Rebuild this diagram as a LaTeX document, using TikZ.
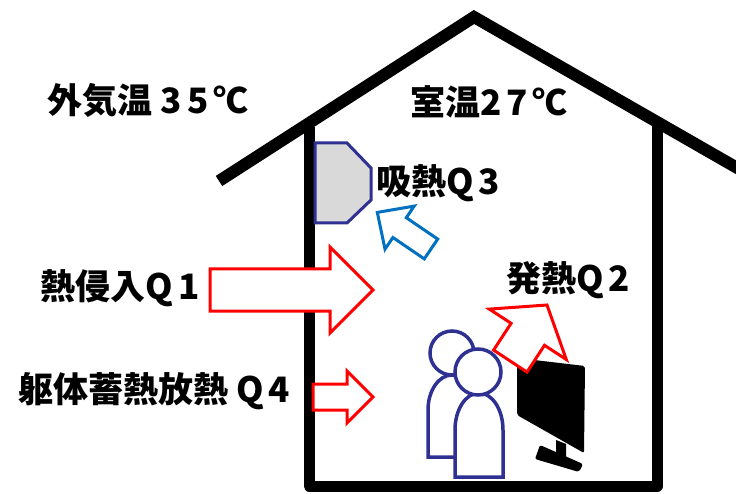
\documentclass[tikz,border=0pt]{standalone}
\usepackage{fontspec}
\setmainfont{Noto Sans CJK JP}
\newfontfamily\latinwide{Noto Sans CJK JP}[LetterSpace=14]
\usepackage{tikz}

\definecolor{navy}{RGB}{46,49,146}
\definecolor{sinkblue}{RGB}{0,112,192}
\definecolor{panel}{RGB}{217,217,217}

\begin{document}
\begin{tikzpicture}[x=1pt, y=-1pt,
    structure/.style={line width=11pt, line join=round},
    roofline/.style={line width=12pt, line join=miter},
    gainarrow/.style={draw=red, fill=white, line width=3pt, line join=miter},
    sinkarrow/.style={draw=sinkblue, fill=white, line width=3pt, line join=miter},
    person/.style={draw=navy, fill=white, line width=3.5pt},
    qtext/.style={font=\bfseries\fontsize{35}{40}\selectfont, inner sep=0pt}
  ]
  \clip (0,0) rectangle (736,494);

  % house
  \draw[roofline] (219,181) -- (474,17) -- (760,181);
  \draw[structure] (309,127) -- (309,486) -- (657,486) -- (657,125);

  % cooling panel and absorbed heat
  \draw[draw=navy, fill=panel, line width=3pt]
    (315,143) -- (347,143) -- (371,168) -- (371,200) -- (347,223) -- (315,223) -- cycle;
  \draw[sinkarrow] (377.3,212.4) -- (414.2,206.1) -- (406.3,217.7) -- (437.7,239.1)
    -- (424.3,258.9) -- (392.9,237.5) -- (385,249.1) -- cycle;

  % monitor
  \fill[rounded corners=2pt] (517,358) -- (585,366) -- (584,453) -- (517,415) -- cycle;
  \fill (556,440) -- (566,444) -- (566,458) -- (556,455) -- cycle;
  \fill[rounded corners=2pt] (540,445) -- (583,464) -- (579,472) -- (535,459) -- cycle;

  % occupants
  \draw[person] (428,457) -- (428,410) arc[start angle=180, end angle=360, x radius=24, y radius=35] -- (476,457) -- cycle;
  \draw[person] (452,353) circle[radius=22];
  \draw[person] (455,477) -- (455,430) arc[start angle=180, end angle=360, x radius=24, y radius=37] -- (503,477) -- cycle;
  \draw[person] (478,372) circle[radius=23];

  % internal gain
  \draw[gainarrow] (547,305) -- (566.3,359.5) -- (544.5,345.3) -- (527,372.1)
    -- (493.6,350.1) -- (511.1,323.3) -- (489.3,309.1) -- cycle;

  % through the wall
  \draw[gainarrow] (210,269) -- (330,269) -- (330,247) -- (373,290) -- (330,333) -- (330,311) -- (210,311) -- cycle;
  \draw[gainarrow] (313,384) -- (347,384) -- (347,371) -- (373,397) -- (347,423) -- (347,410) -- (313,410) -- cycle;

  \node[qtext] (outside) at (148,100) {外気温 {\latinwide 35℃}};
  \node[qtext] (room) at (489,102) {室温{\latinwide 27℃}};
  \node[qtext, anchor=west] (q3) at (376,183) {吸熱{\latinwide Q3}};
  \node[qtext] (q2) at (568,280) {発熱{\latinwide Q2}};
  \node[qtext] (q1) at (120,288) {熱侵入{\latinwide Q1}};
  \node[qtext] (q4) at (154,391) {躯体蓄熱放熱 {\latinwide Q4}};
\end{tikzpicture}
\end{document}
